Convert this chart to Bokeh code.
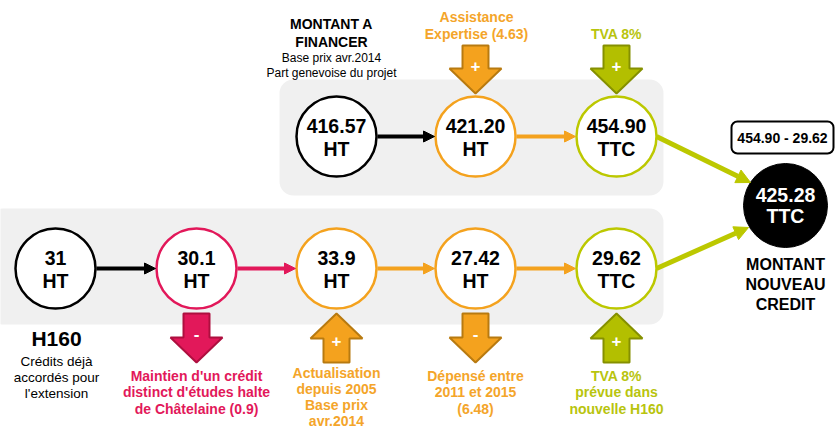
from bokeh.plotting import figure
from bokeh.models import Range1d, BoxAnnotation, Arrow, NormalHead
from bokeh.core.properties import value
from bokeh.embed import file_html
from bokeh.resources import INLINE

# ---------------- data ----------------
top_values = ["416.57", "421.20", "454.90"]
top_units = ["HT", "HT", "TTC"]
bottom_values = ["31", "30.1", "33.9", "27.42", "29.62"]
bottom_units = ["HT", "HT", "HT", "HT", "TTC"]
final_value = "425.28"
final_unit = "TTC"
difference_label = "454.90 - 29.62"

top_title = ["MONTANT A", "FINANCER"]
top_subtitle = ["Base prix avr.2014", "Part genevoise du projet"]
top_adjust_labels = [["Assistance", "Expertise (4.63)"], ["TVA 8%"]]
top_adjust_signs = ["+", "+"]
bottom_title = "H160"
bottom_subtitle = ["Crédits déjà", "accordés pour", "l'extension"]
bottom_adjust_labels = [
    ["Maintien d'un crédit", "distinct d'études halte", "de Châtelaine (0.9)"],
    ["Actualisation", "depuis 2005", "Base prix", "avr.2014"],
    ["Dépensé entre", "2011 et 2015", "(6.48)"],
    ["TVA 8%", "prévue dans", "nouvelle H160"],
]
bottom_adjust_signs = ["-", "+", "-", "+"]
final_title = ["MONTANT", "NOUVEAU", "CREDIT"]

# ---------------- styles / layout ----------------
FONT = "Liberation Sans"
BLACK = "#000000"
ORANGE = "#F4A21E"
ORANGE_TXT = "#F4A52A"
ORANGE_DARK = "#B87A10"
CRIMSON = "#E2185A"
CRIMSON_DARK = "#AE0F3F"
LIME = "#BCC800"
LIME_TXT = "#B8C40E"
LIME_FILL = "#B3BF00"
LIME_DARK = "#859000"
PANEL = "#F0F0F0"

W, H = 837, 428
p = figure(width=W, height=H, x_range=Range1d(0, W), y_range=Range1d(H, 0),
           output_backend="svg", toolbar_location=None, min_border=0)
p.axis.visible = False
p.grid.visible = False
p.outline_line_color = None
p.background_fill_color = "white"
p.border_fill_color = "white"

R = 40
top_x = [336, 475, 616]
top_y = 136
bot_x = [55, 196, 336, 475, 616]
bot_y = 268
fin_x, fin_y, fin_r = 785, 205, 42

top_ring = [BLACK, ORANGE, LIME]
bot_ring = [BLACK, CRIMSON, ORANGE, ORANGE, LIME]

# panels
p.add_layout(BoxAnnotation(left=279, right=663, top=79, bottom=195, fill_color=PANEL,
                           fill_alpha=1, line_color=None, border_radius=14, level="underlay"))
p.add_layout(BoxAnnotation(left=-12, right=663, top=208, bottom=324, fill_color=PANEL,
                           fill_alpha=1, line_color=None, border_radius=14, level="underlay"))
# difference box
p.add_layout(BoxAnnotation(left=731, right=833, top=121, bottom=153, fill_color="white",
                           fill_alpha=1, line_color=BLACK, line_alpha=1, line_width=2,
                           border_radius=6, level="underlay"))


def bold_text(xs, ys, texts, color, size, style="bold"):
    p.text(x=xs, y=ys, text=texts, text_color=color, text_font=value(FONT),
           text_font_size=size, text_font_style=style, text_align="center",
           text_baseline="middle")


def connector(x0, y0, x1, y1, color, lw=4, size=11):
    p.add_layout(Arrow(end=NormalHead(size=size, fill_color=color, line_color=color, line_width=1),
                       x_start=x0, y_start=y0, x_end=x1, y_end=y1,
                       line_color=color, line_width=lw))


# connectors top row
top_conn = [BLACK, ORANGE]
for i, c in enumerate(top_conn):
    connector(top_x[i] + R + 1, top_y, top_x[i + 1] - R - 1, top_y, c)
# connectors bottom row
bot_conn = [BLACK, CRIMSON, ORANGE, ORANGE]
for i, c in enumerate(bot_conn):
    connector(bot_x[i] + R + 1, bot_y, bot_x[i + 1] - R - 1, bot_y, c)

# lime lines to final circle
connector(top_x[2] + R, top_y, 750, 182, LIME, lw=5, size=14)
connector(bot_x[4] + R, bot_y, 748, 227, LIME, lw=5, size=14)

# circles
p.circle(x=top_x, y=[top_y] * 3, radius=R, fill_color="white", line_color=top_ring, line_width=2.5)
p.circle(x=bot_x, y=[bot_y] * 5, radius=R, fill_color="white", line_color=bot_ring, line_width=2.5)
p.circle(x=[fin_x], y=[fin_y], radius=fin_r, fill_color=BLACK, line_color=BLACK)

bold_text(top_x, [top_y - 11] * 3, top_values, BLACK, "19.5px")
bold_text(top_x, [top_y + 12] * 3, top_units, BLACK, "19.5px")
bold_text(bot_x, [bot_y - 11] * 5, bottom_values, BLACK, "19.5px")
bold_text(bot_x, [bot_y + 12] * 5, bottom_units, BLACK, "19.5px")
bold_text([fin_x], [fin_y - 11], [final_value], "white", "19.5px")
bold_text([fin_x], [fin_y + 10], [final_unit], "white", "19.5px")

bold_text([782], [137], [difference_label], BLACK, "14px")


# block arrows
def block_arrow(cx, y0, y1, down, fill, line):
    sw, hw, hl = 13, 26, 25
    if down:
        xs = [cx - sw, cx + sw, cx + sw, cx + hw, cx, cx - hw, cx - sw]
        ys = [y0, y0, y1 - hl, y1 - hl, y1, y1 - hl, y1 - hl]
    else:
        xs = [cx, cx + hw, cx + sw, cx + sw, cx - sw, cx - sw, cx - hw]
        ys = [y0, y0 + hl, y0 + hl, y1, y1, y0 + hl, y0 + hl]
    p.patch(x=xs, y=ys, fill_color=fill, line_color=line, line_width=2)


top_arrow_style = [(ORANGE, ORANGE_DARK), (LIME_FILL, LIME_DARK)]
for i, (f, l) in enumerate(top_arrow_style):
    cx = top_x[i + 1]
    block_arrow(cx, 45, 93, True, f, l)
    bold_text([cx], [65], [top_adjust_signs[i]], "white", "17px")

bot_arrow_style = [(CRIMSON, CRIMSON_DARK, True), (ORANGE, ORANGE_DARK, False),
                   (ORANGE, ORANGE_DARK, True), (LIME_FILL, LIME_DARK, False)]
for i, (f, l, down) in enumerate(bot_arrow_style):
    cx = bot_x[i + 1]
    block_arrow(cx, 313, 362, down, f, l)
    sy = 333 if down else 340
    bold_text([cx], [sy], [bottom_adjust_signs[i]], "white", "17px")

# top labels
bold_text([331, 331], [23, 41], top_title, BLACK, "14px")
bold_text([331, 331], [57, 72], top_subtitle, BLACK, "12px", style="normal")
bold_text([476, 476], [16, 33], top_adjust_labels[0], ORANGE_TXT, "14px")
bold_text([616], [33], top_adjust_labels[1], LIME_TXT, "14px")

# bottom labels
bold_text([56], [338], [bottom_title], BLACK, "21px")
bold_text([56] * 3, [361, 377, 393], bottom_subtitle, BLACK, "13.5px", style="normal")
label_colors = [CRIMSON, ORANGE_TXT, ORANGE_TXT, LIME_TXT]
for i, lines in enumerate(bottom_adjust_labels):
    cx = bot_x[i + 1]
    if len(lines) > 3:
        ys = [372 + 16 * k for k in range(len(lines))]
    else:
        ys = [375 + 16.5 * k for k in range(len(lines))]
    bold_text([cx] * len(lines), ys, lines, label_colors[i], "14px")

bold_text([785] * 3, [264, 284, 304], final_title, BLACK, "16px")

open("out.html", "w").write(file_html(p, INLINE))
